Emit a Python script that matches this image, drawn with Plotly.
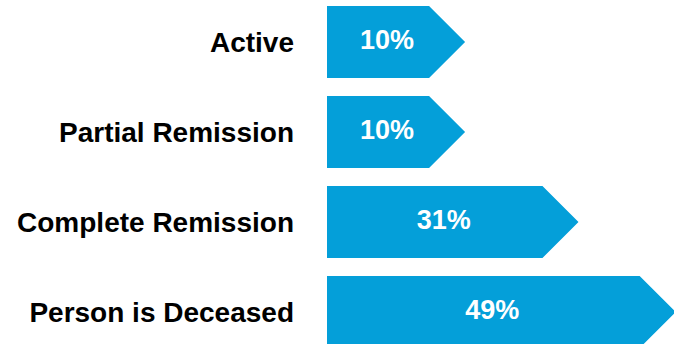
import plotly.graph_objects as go

categories = ["Active", "Partial Remission", "Complete Remission", "Person is Deceased"]
values = [10, 10, 31, 49]
value_labels = ["10%", "10%", "31%", "49%"]

BLUE = "#049FD9"
BASE_PAD = 8.9   # minimum body length (axis units)
TIP = 6.67       # arrow tip length (axis units)
HALF = 0.4       # half bar thickness (category units)

xs, ys = [], []
tx, ty = [], []
for i, v in enumerate(values):
    end = v + BASE_PAD
    xs += [0, end, end + TIP, end, 0, 0, None]
    ys += [i - HALF, i - HALF, i, i + HALF, i + HALF, i - HALF, None]
    tx.append((end + TIP / 2) / 2)
    ty.append(i)

fig = go.Figure()
fig.add_trace(go.Scatter(
    x=xs, y=ys, mode="lines", fill="toself", fillcolor=BLUE,
    line=dict(width=0, color=BLUE), hoverinfo="skip", showlegend=False,
))
fig.add_trace(go.Scatter(
    x=tx, y=ty, mode="text", text=value_labels, textposition="middle center",
    textfont=dict(family="Liberation Sans, Arial, sans-serif", size=27, color="white", weight="bold"),
    showlegend=False, hoverinfo="skip",
))

fig.update_layout(
    width=674, height=344,
    margin=dict(l=327, r=0, t=0, b=0),
    paper_bgcolor="white", plot_bgcolor="white",
    xaxis=dict(range=[0, 64.26], visible=False, fixedrange=True),
    yaxis=dict(
        range=[3.3556, -0.4667], tickmode="array",
        tickvals=list(range(len(categories))), ticktext=categories,
        showgrid=False, zeroline=False, showline=False, ticks="",
        ticklabelstandoff=32, automargin=False,
        tickfont=dict(family="Liberation Sans, Arial, sans-serif", size=28, color="black", weight="bold"),
    ),
)

fig.write_html(
    "out.html",
    config={"displayModeBar": False},
    post_script="document.body.style.margin='0';document.body.style.overflow='hidden';",
)
